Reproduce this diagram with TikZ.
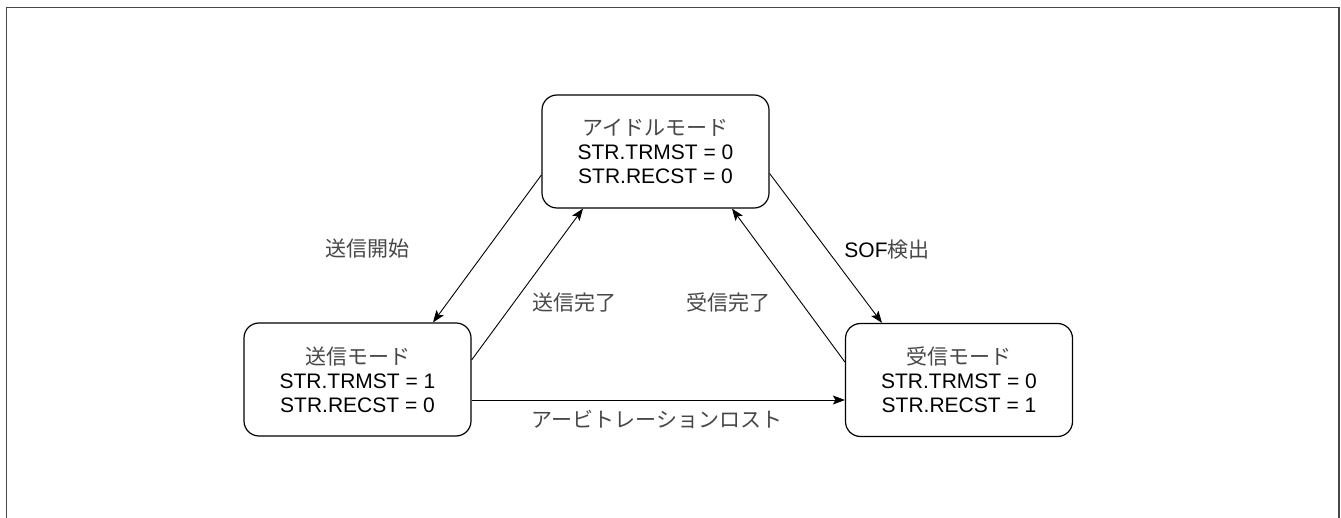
\documentclass[tikz,border=0pt]{standalone}
\usepackage{fontspec}
\setmainfont{Liberation Sans}
\newfontfamily\jp{Noto Sans CJK JP}
\usetikzlibrary{arrows.meta}
\begin{document}
\begin{tikzpicture}[x=1pt,y=-1pt,
  statebox/.style={draw=black,line width=1.2pt,rounded corners=15pt,minimum width=227pt,minimum height=113pt,align=center,font=\fontsize{21}{24}\selectfont,inner sep=0pt},
  conn/.style={draw=black,line width=0.9pt,-{Stealth[length=12pt,width=9pt,inset=2.5pt]}},
  lbl/.style={font=\fontsize{21}{24}\selectfont,inner sep=0pt},
  jpc/.style={text=black!72}]
\useasboundingbox (0,0) rectangle (1341,518);
\draw[draw=black!72,line width=1.6pt] (6.5,530) -- (6.5,7.5) -- (1339.2,7.5) -- (1339.2,530);
\node[statebox] (idle) at (655.5,151.5) {{\jp\color{black!72}アイドルモード}\\STR.TRMST = 0\\STR.RECST = 0};
\node[statebox] (send) at (357.5,379.5) {{\jp\color{black!72}送信モード}\\STR.TRMST = 1\\STR.RECST = 0};
\node[statebox] (recv) at (959,380) {{\jp\color{black!72}受信モード}\\STR.TRMST = 0\\STR.RECST = 1};
\draw[conn] ([yshift=-23.5pt]idle.west) -- ([xshift=75.5pt]send.north);
\draw[conn] ([yshift=19.5pt]send.east) -- ([xshift=-72.5pt]idle.south);
\draw[conn] ([yshift=-22pt]idle.east) -- ([xshift=-77pt]recv.north);
\draw[conn] ([yshift=18pt]recv.west) -- ([xshift=76.5pt]idle.south);
\draw[conn] ([yshift=-20.5pt]send.east) -- ([yshift=-20pt]recv.west);
\node[lbl,jpc] (l1) at (367,249) {\jp 送信開始};
\node[lbl,jpc] (l2) at (574,303) {\jp 送信完了};
\node[lbl,jpc] (l3) at (728,303) {\jp 受信完了};
\node[lbl] (l4) at (887,250) {SOF{\jp\color{black!72}検出}};
\node[lbl,jpc] (l5) at (657,419) {\jp アービトレーションロスト};
\end{tikzpicture}
\end{document}
